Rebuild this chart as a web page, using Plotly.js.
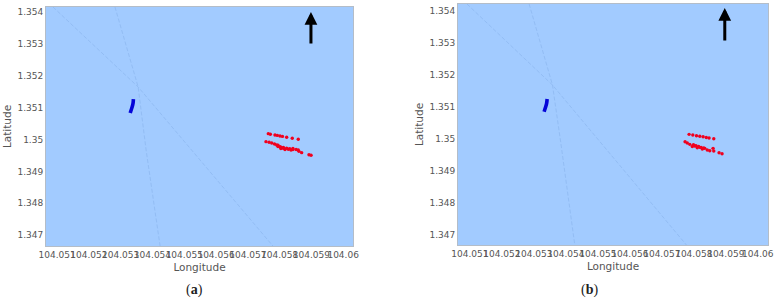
<!DOCTYPE html>
<html>
<head>
<meta charset="utf-8">
<script src="https://cdn.plot.ly/plotly-3.0.1.min.js"></script>
<style>html,body{margin:0;padding:0;background:#fff}#c{width:780px;height:303px}</style>
</head>
<body>
<div id="c"></div>
<script>
const xTicks = [104.051,104.052,104.053,104.054,104.055,104.056,104.057,104.058,104.059,104.06];
const xTickText = ['104.051','104.052','104.053','104.054','104.055','104.056','104.057','104.058','104.059','104.06'];
const yTicks = [1.347,1.348,1.349,1.35,1.351,1.352,1.353,1.354];
const yTickText = ['1.347','1.348','1.349','1.35','1.351','1.352','1.353','1.354'];
const captions = ['a','b'];

const roadAx1 = [104.05087,104.05355,104.05779];
const roadAy1 = [1.35416,1.35165,1.34666];
const roadAx2 = [104.05282,104.05355,104.0538,104.05424];
const roadAy2 = [1.35416,1.35165,1.34967,1.34666];
const blueAx = [104.0534,104.05339,104.05336,104.05333,104.0533];
const blueAy = [1.35127,1.35115,1.35102,1.35093,1.35083];
const redAx1 = [104.057645,104.05771,104.057855,104.05793,104.058013,104.05809,104.058223,104.058399,104.058588];
const redAy1 = [1.350185,1.350165,1.350144,1.35013,1.350113,1.3501,1.350072,1.350041,1.350009];
const redAx2 = [104.057572,104.05767,104.057752,104.05784,104.057909,104.05795,104.058013,104.05804,104.058116,104.05817,104.058274,104.05836,104.05842,104.05852,104.058588,104.05861,104.058695,104.058925,104.05899,104.05795,104.05804,104.05812,104.05822,104.05832,104.05842];
const redAy2 = [1.349934,1.349915,1.349893,1.34986,1.349831,1.34978,1.349777,1.34972,1.349727,1.34969,1.349696,1.34967,1.34972,1.34969,1.349674,1.34963,1.349589,1.349524,1.34951,1.34982,1.34976,1.34975,1.34973,1.34971,1.34969];

const roadBx1 = [104.05091,104.053584,104.057772];
const roadBy1 = [1.35421,1.351678,1.346678];
const roadBx2 = [104.052853,104.053584,104.053853,104.054281];
const roadBy2 = [1.35421,1.351678,1.349803,1.346678];
const blueBx = [104.053416,104.0534,104.053366,104.053322];
const blueBy = [1.351241,1.351106,1.350981,1.350844];
const redBx1 = [104.057853,104.05797,104.058084,104.058188,104.058291,104.05839,104.058478,104.058625];
const redBy1 = [1.350138,1.350116,1.350094,1.350078,1.350063,1.350041,1.350022,1.35];
const redBx2 = [104.057728,104.057797,104.057875,104.057953,104.058031,104.058109,104.058188,104.058266,104.058344,104.058422,104.0585,104.058603,104.058625,104.058791,104.058884,104.05799,104.05807,104.05815,104.05823,104.05831];
const redBy2 = [1.349906,1.349866,1.349825,1.349756,1.349772,1.349716,1.349731,1.349678,1.3497,1.349647,1.349625,1.3497,1.349616,1.349563,1.349531,1.34981,1.34978,1.34976,1.34973,1.34971];

const arrowA = {x:104.058987, y0:1.352966, y1:1.354};
const arrowB = {x:104.058969, y0:1.353022, y1:1.354084};

const W = 780, H = 303;
const bg = '#a2cbff', roadColor = '#93bdf4', textColor = '#555555';
const font = 'DejaVu Sans, sans-serif';

function road(x,y,xa,ya){return {x,y,xaxis:xa,yaxis:ya,mode:'lines',type:'scatter',hoverinfo:'skip',
  line:{color:roadColor,width:1,dash:'4px,2px'}};}
function red(x,y,xa,ya){return {x,y,xaxis:xa,yaxis:ya,mode:'markers',type:'scatter',hoverinfo:'skip',
  marker:{color:'#f0001e',size:3.4,symbol:'circle'}};}
function blue(x,y,xa,ya){return {x,y,xaxis:xa,yaxis:ya,mode:'lines',type:'scatter',hoverinfo:'skip',
  line:{color:'#0505d8',width:3.6,shape:'spline'}};}

const data = [
  road(roadAx1,roadAy1,'x','y'), road(roadAx2,roadAy2,'x','y'),
  blue(blueAx,blueAy,'x','y'), red(redAx1,redAy1,'x','y'), red(redAx2,redAy2,'x','y'),
  road(roadBx1,roadBy1,'x2','y2'), road(roadBx2,roadBy2,'x2','y2'),
  blue(blueBx,blueBy,'x2','y2'), red(redBx1,redBy1,'x2','y2'), red(redBx2,redBy2,'x2','y2')
];

function xAxis(l,r,range,anchor){return {domain:[l/W,r/W],range,anchor,tickmode:'array',tickvals:xTicks,ticktext:xTickText,
  tickangle:0,tickfont:{family:font,size:9,color:textColor},showgrid:false,zeroline:false,ticks:'',
  showline:true,mirror:true,linecolor:'#b4bdc8',linewidth:1,automargin:false,
  title:{text:'Longitude',font:{family:font,size:10.5,color:textColor},standoff:4}};}
function yAxis(t,b,range,anchor){return {domain:[1-b/H,1-t/H],range,anchor,tickmode:'array',tickvals:yTicks,ticktext:yTickText,
  tickfont:{family:font,size:9,color:textColor},showgrid:false,zeroline:false,ticks:'',
  showline:true,mirror:true,linecolor:'#b4bdc8',linewidth:1,automargin:false,
  title:{text:'Latitude',font:{family:font,size:10.5,color:textColor},standoff:3}};}

function arrow(a,xr,yr){return {x:a.x,y:a.y1,ax:a.x,ay:a.y0,xref:xr,yref:yr,axref:xr,ayref:yr,text:'',
  showarrow:true,arrowhead:2,arrowsize:0.85,arrowwidth:3,arrowcolor:'#000000'};}
function caption(letter,px){return {x:px/W,y:1-290/H,xref:'paper',yref:'paper',yanchor:'middle',showarrow:false,
  text:'(<b>'+letter+'</b>)',font:{family:'Liberation Serif, serif',size:14,color:'#222222'}};}

const layout = {
  width:W,height:H,margin:{l:0,r:0,t:0,b:0,pad:0},paper_bgcolor:'#ffffff',plot_bgcolor:bg,showlegend:false,
  xaxis:xAxis(46,353,[104.05065,104.06031],'y'),
  yaxis:yAxis(7,246,[1.34666,1.35416],'x'),
  xaxis2:xAxis(458,768,[104.05063,104.06032],'y2'),
  yaxis2:yAxis(4,245,[1.34668,1.35421],'x2'),
  annotations:[arrow(arrowA,'x','y'),arrow(arrowB,'x2','y2'),caption(captions[0],184),caption(captions[1],600)]
};
Plotly.newPlot('c',data,layout,{displayModeBar:false,staticPlot:true});
</script>
</body>
</html>
